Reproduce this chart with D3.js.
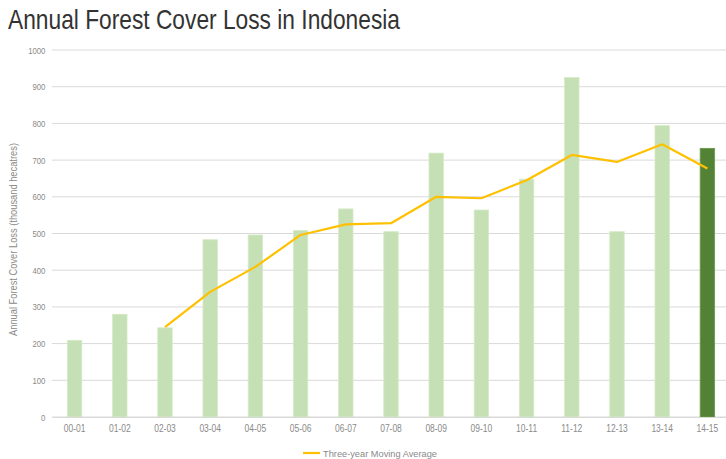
<!DOCTYPE html>
<html><head><meta charset="utf-8">
<script src="https://cdn.jsdelivr.net/npm/d3@7"></script>
<style>body{margin:0;background:#fff}svg{display:block}</style>
</head><body>
<script>
const categories = ["00-01","01-02","02-03","03-04","04-05","05-06","06-07","07-08","08-09","09-10","10-11","11-12","12-13","13-14","14-15"];
const lossValues = [209,280,243,483,496,508,567,505,719,564,648,925,505,794,732];
const movingAvg = [null,null,245,341,409,496,525,528,600,596,645,714,695,743,677];
const yTicks = [0,100,200,300,400,500,600,700,800,900,1000];

const W = 726, H = 459;
const m = {left: 52, right: -4, top: 50, bottom: 42};
const svg = d3.select("body").append("svg").attr("width", W).attr("height", H);
const font = "'Liberation Sans',Arial,sans-serif";

const x = d3.scaleBand().domain(categories).range([m.left, W - m.right]).paddingInner(0.68).paddingOuter(0.34);
const y = d3.scaleLinear().domain([0, 1000]).range([H - m.bottom, m.top]);

svg.append("text").attr("x", 8).attr("y", 28.5).text("Annual Forest Cover Loss in Indonesia")
  .attr("font-family", font).attr("font-size", 27.5).attr("fill", "#333")
  .attr("textLength", 392).attr("lengthAdjust", "spacingAndGlyphs");

// grid
svg.append("g").selectAll("line").data(yTicks).join("line")
  .attr("x1", m.left).attr("x2", W).attr("y1", d => y(d)).attr("y2", d => y(d))
  .attr("stroke", "#d9d9d9").attr("stroke-width", 1);

const yAxis = svg.append("g").attr("transform", `translate(${m.left},0)`)
  .call(d3.axisLeft(y).tickValues(yTicks).tickFormat(d3.format("d")).tickSize(0).tickPadding(8));
yAxis.select(".domain").remove();
yAxis.selectAll("text").attr("font-family", font).attr("font-size", 9.5).attr("fill", "#8a8a8a")
  .attr("transform", "scale(0.82,1)");

// bars
svg.append("g").selectAll("rect").data(lossValues).join("rect")
  .attr("x", (d, i) => x(categories[i])).attr("width", x.bandwidth())
  .attr("y", d => y(d)).attr("height", d => y(0) - y(d))
  .attr("fill", (d, i) => i === categories.length - 1 ? "#548235" : "#c5e0b4")
  .attr("stroke", (d, i) => i === categories.length - 1 ? "#6a9a4a" : "#d6ebc9").attr("stroke-width", 0.8);

const xAxis = svg.append("g").attr("transform", `translate(0,${y(0)})`)
  .call(d3.axisBottom(x).tickSize(0).tickPadding(7));
xAxis.select(".domain").attr("stroke", "#d9d9d9");
xAxis.selectAll("text").attr("font-family", font).attr("font-size", 11).attr("fill", "#8a8a8a")
  .attr("transform", "scale(0.77,1)");

// line
const line = d3.line().defined(d => d.v != null)
  .x(d => x(d.c) + x.bandwidth() / 2).y(d => y(d.v));
svg.append("path").datum(categories.map((c, i) => ({c, v: movingAvg[i]})))
  .attr("d", line).attr("fill", "none").attr("stroke", "#ffc000").attr("stroke-width", 2.2)
  .attr("stroke-linejoin", "round");

// y title
svg.append("text").attr("transform", `translate(17,${(y(0) + y(1000)) / 2 + 6}) rotate(-90)`)
  .attr("text-anchor", "middle").text("Annual  Forest Cover Loss (thousand hecatres)")
  .attr("font-family", font).attr("font-size", 10).attr("fill", "#8a8a8a")
  .attr("textLength", 193).attr("lengthAdjust", "spacingAndGlyphs");

// legend
svg.append("line").attr("x1", 303).attr("x2", 320).attr("y1", 453).attr("y2", 453)
  .attr("stroke", "#ffc000").attr("stroke-width", 2.2);
svg.append("text").attr("x", 323).attr("y", 456.5).text("Three-year Moving Average")
  .attr("font-family", font).attr("font-size", 9.5).attr("fill", "#8a8a8a")
  .attr("textLength", 114).attr("lengthAdjust", "spacingAndGlyphs");
</script>
</body></html>
